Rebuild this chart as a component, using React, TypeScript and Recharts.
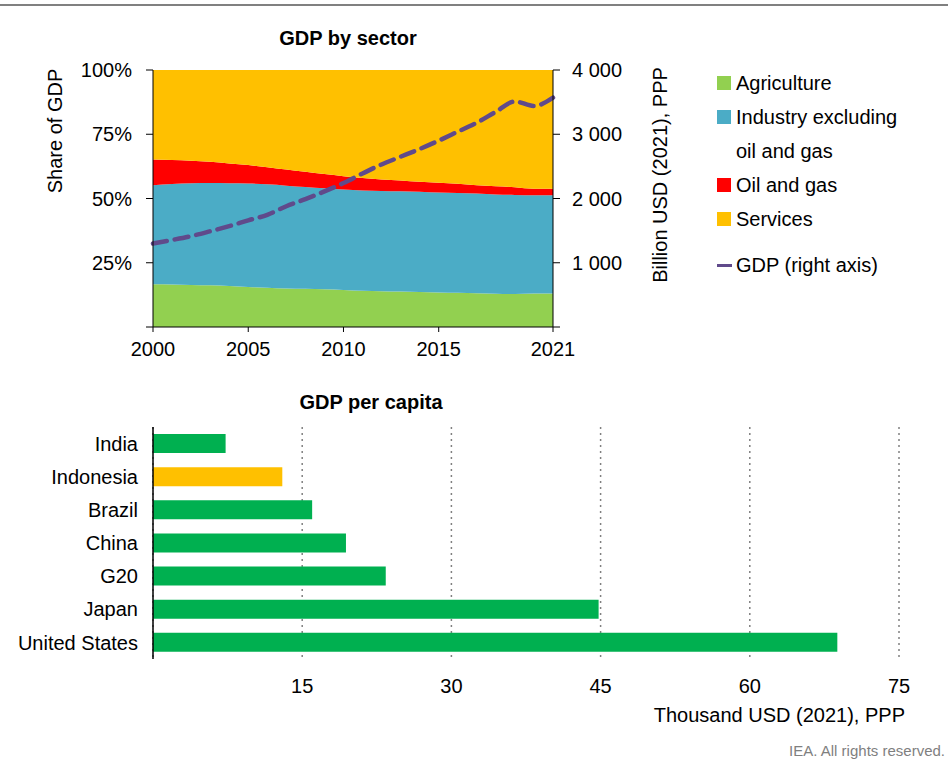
import React from 'react';
import {
  ComposedChart, Area, Line, XAxis, YAxis, BarChart, Bar, Cell, CartesianGrid,
} from 'recharts';

// GDP by sector, shares in % (2000-2021)
const years = [2000, 2001, 2002, 2003, 2004, 2005, 2006, 2007, 2008, 2009, 2010, 2011, 2012, 2013, 2014, 2015, 2016, 2017, 2018, 2019, 2020, 2021];
const agriculture = [16.6, 16.5, 16.3, 16.2, 16.0, 15.6, 15.3, 15.0, 14.9, 14.7, 14.4, 14.1, 13.9, 13.8, 13.6, 13.4, 13.3, 13.1, 12.9, 12.8, 13.0, 13.0];
const industry = [38.6, 39.1, 39.6, 39.8, 39.9, 40.2, 40.2, 40.0, 39.6, 39.3, 39.1, 39.0, 39.0, 39.0, 39.0, 38.9, 38.8, 38.8, 38.7, 38.6, 38.3, 38.3];
const oilGas = [10.0, 9.4, 8.8, 8.3, 7.7, 7.2, 6.7, 6.3, 5.9, 5.5, 5.2, 4.9, 4.5, 4.2, 3.9, 3.8, 3.6, 3.3, 3.2, 3.0, 2.5, 2.5];
const services = [34.8, 35.0, 35.3, 35.7, 36.4, 37.0, 37.8, 38.7, 39.6, 40.5, 41.3, 42.0, 42.6, 43.0, 43.5, 43.9, 44.3, 44.8, 45.2, 45.6, 46.2, 46.2];
// GDP, billion USD (2021) PPP
const gdp = [1300, 1355, 1415, 1490, 1570, 1660, 1745, 1880, 1990, 2110, 2240, 2390, 2530, 2650, 2770, 2900, 3040, 3180, 3350, 3510, 3440, 3570];

const yearTicks = [2000, 2005, 2010, 2015, 2021];
const shareTicks = [0, 25, 50, 75, 100];
const gdpTicks = [0, 1000, 2000, 3000, 4000];

// GDP per capita, thousand USD (2021) PPP
const countries = ['India', 'Indonesia', 'Brazil', 'China', 'G20', 'Japan', 'United States'];
const perCapita = [7.3, 13.0, 16.0, 19.4, 23.4, 44.8, 68.8];
const capitaTicks = [15, 30, 45, 60, 75];

const FONT = '"Liberation Sans", Arial, sans-serif';
const C_AGRI = '#92d050';
const C_IND = '#4bacc6';
const C_OIL = '#ff0000';
const C_SERV = '#ffc000';
const C_GDP = '#604a8b';
const C_BAR = '#00b050';

const sectorData = years.map((y, i) => ({
  year: y,
  agriculture: agriculture[i],
  industry: industry[i],
  oilGas: oilGas[i],
  services: services[i],
  gdp: gdp[i],
}));

const capitaData = countries.map((c, i) => ({ country: c, value: perCapita[i] }));

const fmtThousands = (v: number) => (v === 0 ? '' : String(v).replace(/\B(?=(\d{3})+(?!\d))/g, ' '));

const legendItems = [
  { label: ['Agriculture'], color: C_AGRI, kind: 'box' },
  { label: ['Industry excluding', 'oil and gas'], color: C_IND, kind: 'box' },
  { label: ['Oil and gas'], color: C_OIL, kind: 'box' },
  { label: ['Services'], color: C_SERV, kind: 'box' },
  { label: ['GDP (right axis)'], color: C_GDP, kind: 'line' },
];

const SectorLegend = () => (
  <div style={{ position: 'absolute', left: 717, top: 66, fontFamily: FONT, fontSize: 20, color: '#000' }}>
    {legendItems.map((it, i) => (
      <div key={i} style={{ display: 'flex', alignItems: 'flex-start', marginTop: it.kind === 'line' ? 12 : 0 }}>
        <div style={{ width: 19, height: 34, display: 'flex', alignItems: 'center' }}>
          {it.kind === 'box'
            ? <div style={{ width: 14, height: 14, background: it.color }} />
            : <div style={{ width: 15, height: 3, background: it.color }} />}
        </div>
        <div>
          {it.label.map((l, j) => (
            <div key={j} style={{ height: 34, lineHeight: '34px', whiteSpace: 'nowrap' }}>{l}</div>
          ))}
        </div>
      </div>
    ))}
  </div>
);

const rotated = (text: string, cx: number, cy: number) => (
  <div
    style={{
      position: 'absolute', left: cx, top: cy, transform: 'translate(-50%, -50%) rotate(-90deg)',
      whiteSpace: 'nowrap', fontFamily: FONT, fontSize: 20, color: '#000',
    }}
  >
    {text}
  </div>
);

export default function App() {
  const tickStyle = { fontFamily: FONT, fontSize: 20, fill: '#000' };
  return (
    <div style={{ position: 'absolute', left: 0, top: 0, width: 948, height: 761, background: '#fff', overflow: 'hidden' }}>
      <div style={{ position: 'absolute', left: 0, top: 4, width: 948, height: 2, background: '#808080' }} />

      <div style={{ position: 'absolute', left: 348, top: 38, transform: 'translate(-50%, -50%)', fontFamily: FONT, fontSize: 20, fontWeight: 'bold', whiteSpace: 'nowrap' }}>
        GDP by sector
      </div>
      {rotated('Share of GDP', 55, 131)}
      {rotated('Billion USD (2021), PPP', 660, 175)}

      <div style={{ position: 'absolute', left: 0, top: 0 }}>
        <ComposedChart
          width={948}
          height={380}
          data={sectorData}
          margin={{ top: 70, right: 335, bottom: 23, left: 93 }}
        >
          <XAxis
            dataKey="year"
            type="number"
            domain={[2000, 2021]}
            ticks={yearTicks}
            tick={tickStyle}
            tickSize={5}
            tickMargin={10}
            height={30}
            stroke="#000"
            interval={0}
          />
          <YAxis
            yAxisId="share"
            domain={[0, 100]}
            ticks={shareTicks}
            tickFormatter={(v: number) => (v === 0 ? '' : `${v}%`)}
            tick={tickStyle}
            tickSize={7}
            tickMargin={14}
            width={60}
            stroke="#000"
            interval={0}
          />
          <YAxis
            yAxisId="gdp"
            orientation="right"
            domain={[0, 4000]}
            ticks={gdpTicks}
            tickFormatter={fmtThousands}
            tick={{ ...tickStyle, textAnchor: 'start' }}
            tickSize={7}
            tickMargin={12}
            width={60}
            stroke="#000"
            interval={0}
          />
          <Area yAxisId="share" type="monotone" dataKey="agriculture" stackId="s" stroke="none" fill={C_AGRI} fillOpacity={1} isAnimationActive={false} />
          <Area yAxisId="share" type="monotone" dataKey="industry" stackId="s" stroke="none" fill={C_IND} fillOpacity={1} isAnimationActive={false} />
          <Area yAxisId="share" type="monotone" dataKey="oilGas" stackId="s" stroke="none" fill={C_OIL} fillOpacity={1} isAnimationActive={false} />
          <Area yAxisId="share" type="monotone" dataKey="services" stackId="s" stroke="none" fill={C_SERV} fillOpacity={1} isAnimationActive={false} />
          <Line
            yAxisId="gdp"
            type="monotone"
            dataKey="gdp"
            stroke={C_GDP}
            strokeWidth={4.5}
            strokeDasharray="14 8"
            strokeLinecap="round"
            dot={false}
            isAnimationActive={false}
          />
        </ComposedChart>
      </div>
      <SectorLegend />

      <div style={{ position: 'absolute', left: 371, top: 402, transform: 'translate(-50%, -50%)', fontFamily: FONT, fontSize: 20, fontWeight: 'bold', whiteSpace: 'nowrap' }}>
        GDP per capita
      </div>

      <div style={{ position: 'absolute', left: 0, top: 380 }}>
        <BarChart
          width={948}
          height={324}
          data={capitaData}
          layout="vertical"
          margin={{ top: 47, right: 49, bottom: 5, left: 17 }}
          barSize={19}
        >
          <CartesianGrid horizontal={false} vertical stroke="#808080" strokeDasharray="2 4" strokeWidth={1.5} />
          <XAxis
            type="number"
            domain={[0, 75]}
            ticks={capitaTicks}
            tick={tickStyle}
            axisLine={false}
            tickLine={false}
            tickSize={0}
            tickMargin={20}
            height={40}
            interval={0}
          />
          <YAxis
            type="category"
            dataKey="country"
            tick={tickStyle}
            tickLine={false}
            tickMargin={9}
            width={136}
            stroke="#000"
            strokeWidth={1.5}
            interval={0}
          />
          <Bar dataKey="value" isAnimationActive={false}>
            {capitaData.map((d) => (
              <Cell key={d.country} fill={d.country === 'Indonesia' ? C_SERV : C_BAR} />
            ))}
          </Bar>
        </BarChart>
      </div>

      <div style={{ position: 'absolute', right: 43, top: 704, fontFamily: FONT, fontSize: 20, whiteSpace: 'nowrap' }}>
        Thousand USD (2021), PPP
      </div>
      <div style={{ position: 'absolute', right: 3, top: 742, fontFamily: FONT, fontSize: 15, color: '#7f7f7f', whiteSpace: 'nowrap' }}>
        IEA. All rights reserved.
      </div>
    </div>
  );
}
